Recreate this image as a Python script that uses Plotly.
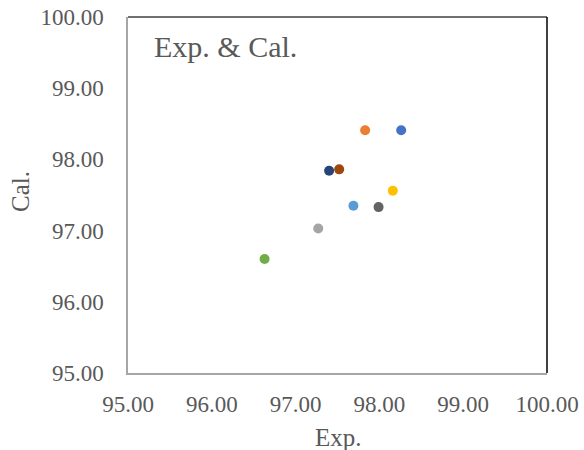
import plotly.graph_objects as go

exp_vals = [98.26, 97.83, 97.27, 98.16, 97.69, 96.63, 97.40, 97.52, 97.99]
cal_vals = [98.41, 98.41, 97.03, 97.56, 97.35, 96.60, 97.84, 97.86, 97.33]
colors = ["#4472C4", "#ED7D31", "#A5A5A5", "#FFC000", "#5B9BD5",
          "#70AD47", "#264478", "#9E480E", "#636363"]
tick_vals = [95, 96, 97, 98, 99, 100]
tick_text = ["95.00", "96.00", "97.00", "98.00", "99.00", "100.00"]

FONT = "Liberation Serif"
GRAY = "#595959"

fig = go.Figure()
for x, y, c in zip(exp_vals, cal_vals, colors):
    fig.add_trace(go.Scatter(x=[x], y=[y], mode="markers",
                             marker=dict(color=c, size=10),
                             showlegend=False))

axis_common = dict(range=[95, 100], tickvals=tick_vals, ticktext=tick_text,
                   showgrid=False, zeroline=False, showline=True,
                   linecolor="#a6a6a6", linewidth=1.5, ticks="",
                   automargin=False,
                   tickfont=dict(family=FONT, size=23, color=GRAY))

fig.update_layout(
    width=584, height=450,
    margin=dict(l=128, r=37, t=17, b=77),
    paper_bgcolor="white", plot_bgcolor="white",
    font=dict(family=FONT, color=GRAY),
    xaxis=dict(**axis_common, ticklabelstandoff=10),
    yaxis=dict(**axis_common, ticklabelstandoff=18),
    shapes=[
        dict(type="line", xref="paper", yref="paper", x0=0, x1=1, y0=1, y1=1,
             line=dict(color="#404040", width=1.5)),
        dict(type="line", xref="paper", yref="paper", x0=1, x1=1, y0=0, y1=1,
             line=dict(color="#000000", width=1.5)),
    ],
    annotations=[
        dict(text="Exp. & Cal.", xref="paper", yref="paper",
             x=0.058, y=0.918, xanchor="left", yanchor="middle",
             showarrow=False, font=dict(family=FONT, size=30, color=GRAY)),
        dict(text="Exp.", xref="paper", yref="paper",
             x=0.503, y=-0.18, xanchor="center", yanchor="middle",
             showarrow=False, font=dict(family=FONT, size=25, color=GRAY)),
        dict(text="Cal.", xref="paper", yref="paper", textangle=-90,
             x=-0.258, y=0.511, xanchor="center", yanchor="middle",
             showarrow=False, font=dict(family=FONT, size=25, color=GRAY)),
    ],
)

fig.write_html("out.html", config={"displayModeBar": False},
               post_script="document.body.style.margin='0';")
